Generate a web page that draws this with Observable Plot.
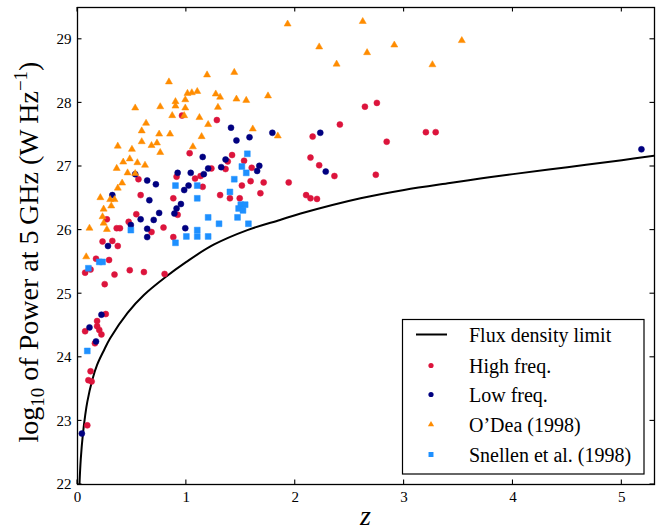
<!DOCTYPE html>
<html><head><meta charset="utf-8">
<script src="https://cdn.jsdelivr.net/npm/d3@7"></script>
<script src="https://cdn.jsdelivr.net/npm/@observablehq/plot@0.6"></script>
<style>
body{margin:0;background:#fff;}
#wrap{width:663px;height:531px;}
</style></head><body><div id="wrap"></div>
<script>
// [z, log10 P]
const highFreq = [[0.09,22.93],[0.10,23.64],[0.13,23.62],[0.12,23.78],[0.16,24.22],[0.07,24.41],[0.18,24.49],[0.20,24.43],[0.22,24.36],[0.18,24.57],[0.26,24.68],[0.25,25.15],[0.07,25.33],[0.12,25.38],[0.34,25.30],[0.48,25.37],[0.61,25.34],[0.80,25.31],[0.17,25.55],[0.29,25.53],[0.23,25.82],[0.32,25.83],[0.37,25.75],[0.36,26.03],[0.39,26.03],[0.27,26.17],[0.47,26.13],[0.54,26.25],[0.68,25.97],[0.79,26.04],[0.88,25.89],[0.58,26.55],[0.88,26.50],[0.92,26.24],[0.56,26.80],[0.91,26.84],[1.08,26.81],[1.13,26.85],[1.15,26.68],[1.31,26.55],[1.40,26.50],[1.49,26.50],[1.51,26.70],[1.59,26.77],[1.71,26.75],[1.68,26.58],[1.94,26.75],[1.23,26.97],[1.36,26.96],[1.60,26.98],[1.38,27.08],[1.53,27.09],[1.42,27.18],[1.03,27.21],[0.96,27.80],[1.28,27.73],[2.10,26.55],[2.14,26.50],[2.20,26.49],[2.36,26.85],[2.74,26.87],[2.22,27.02],[2.14,27.14],[2.16,27.47],[2.84,27.39],[2.41,27.66],[2.64,27.94],[2.75,28.00],[3.20,27.54],[3.29,27.54]];
const lowFreq = [[0.04,22.80],[0.17,24.25],[0.11,24.47],[0.22,24.67],[0.28,25.75],[0.32,26.55],[0.49,26.08],[0.58,26.17],[0.64,26.02],[0.64,25.89],[0.70,26.16],[0.75,26.27],[0.89,26.26],[0.91,26.34],[0.95,26.41],[0.66,26.47],[0.99,26.03],[0.98,26.63],[1.02,26.70],[0.64,26.78],[0.72,26.72],[0.53,26.88],[0.92,26.90],[1.04,26.90],[1.16,26.88],[1.20,26.97],[1.32,26.99],[1.65,26.93],[1.67,27.01],[1.36,27.11],[1.15,27.15],[1.41,27.61],[1.46,27.41],[1.58,27.46],[1.79,27.53],[2.23,27.53],[2.28,26.92],[5.18,27.27]];
const odea = [[0.08,25.58],[0.11,26.03],[0.27,26.01],[0.24,26.11],[0.23,26.21],[0.24,26.33],[0.31,26.38],[0.21,26.51],[0.30,26.48],[0.34,26.48],[0.37,26.66],[0.41,26.74],[0.36,26.97],[0.46,26.90],[0.53,26.89],[0.42,27.07],[0.48,27.12],[0.55,27.06],[0.62,27.02],[0.37,27.32],[0.50,27.27],[0.76,27.22],[0.68,27.33],[0.73,27.37],[0.59,27.39],[0.59,27.56],[0.75,27.51],[0.85,27.51],[0.63,27.68],[0.87,27.80],[0.98,27.80],[0.53,27.92],[0.76,27.94],[0.90,27.95],[0.90,28.02],[0.99,28.05],[0.84,28.33],[1.01,28.15],[1.05,28.16],[1.10,28.18],[0.99,27.92],[1.27,28.14],[1.31,28.09],[1.46,28.06],[1.55,28.04],[1.75,28.11],[1.29,27.93],[1.12,27.77],[1.20,27.66],[1.61,27.59],[1.84,27.48],[1.14,27.47],[1.06,27.31],[1.19,28.44],[1.44,28.48],[1.93,29.24],[2.62,29.28],[2.22,28.88],[2.66,28.79],[2.91,28.91],[3.53,28.98],[2.38,28.61],[3.26,28.60]];
const snellen = [[1.56,27.20],[1.51,27.00],[1.55,26.90],[1.44,26.80],[0.90,26.70],[1.10,26.70],[1.40,26.60],[1.10,26.50],[1.50,26.40],[1.54,26.40],[1.48,26.34],[1.52,26.31],[1.20,26.20],[1.47,26.20],[1.30,26.10],[1.57,26.10],[0.49,26.00],[1.10,26.00],[1.00,25.90],[1.10,25.90],[1.20,25.90],[0.90,25.80],[0.20,25.50],[0.23,25.50],[0.10,25.40],[0.09,24.10]];
const fluxZ = [0.018,0.03,0.05,0.07,0.09,0.135,0.18,0.24,0.30,0.46,0.61,0.80,1.0,1.25,1.56,1.86,2.05,2.6,3.0,3.42,3.7,4.0,4.5,5.0,5.3];
const fluxP = [22.0,22.4,22.8,23.08,23.3,23.64,23.88,24.1,24.3,24.7,24.98,25.25,25.5,25.77,26.0,26.16,26.26,26.5,26.63,26.74,26.81,26.88,26.99,27.1,27.17];
const xTicks = [0,1,2,3,4,5];
const yTicks = [22,23,24,25,26,27,28,29];
const legendLabels = ["Flux density limit","High freq.","Low freq.","O\u2019Dea (1998)","Snellen et al. (1998)"];
const colors = {high:"#DC143C", low:"#000080", odea:"#FF8C00", snellen:"#1E90FF"};

const W=663, H=531, mL=77, mR=9, mT=7, mB=47;
const font = "'Liberation Serif', 'Times New Roman', serif";
const flux = fluxZ.map((z,i)=>({z, p:fluxP[i]}));

const plot = Plot.plot({
  width:W, height:H, marginLeft:mL, marginRight:mR, marginTop:mT, marginBottom:mB,
  style:{fontFamily:font, fontSize:"15px", background:"white", color:"black", overflow:"visible"},
  x:{domain:[0,5.3], ticks:xTicks, tickFormat:d=>String(d), tickSize:0, tickPadding:7, label:null},
  y:{domain:[22,29.5], ticks:yTicks, tickFormat:d=>String(d), tickSize:0, tickPadding:6, label:null},
  marks:[
    Plot.line(flux,{x:"z", y:"p", stroke:"black", strokeWidth:2, curve:"catmull-rom", clip:true}),
    Plot.dot(highFreq,{x:d=>d[0], y:d=>d[1], r:3, fill:colors.high, stroke:colors.high, strokeWidth:0.5}),
    Plot.dot(lowFreq,{x:d=>d[0], y:d=>d[1], r:3, fill:colors.low, stroke:colors.low, strokeWidth:0.5}),
    Plot.dot(odea,{x:d=>d[0], y:d=>d[1], r:2.6, symbol:"triangle", fill:colors.odea, stroke:colors.odea, strokeWidth:0.5}),
    Plot.dot(snellen,{x:d=>d[0], y:d=>d[1], r:3.3, symbol:"square", fill:colors.snellen, stroke:colors.snellen, strokeWidth:0.5}),
    Plot.frame({stroke:"black", strokeWidth:1.3})
  ]
});
document.getElementById("wrap").appendChild(plot);

const svg = d3.select(plot);
const sx = plot.scale("x"), sy = plot.scale("y");
const x0 = mL, x1 = W-mR, y0 = mT, y1 = H-mB;
const tk = 4.5;
const g = svg.append("g").attr("stroke","black").attr("stroke-width",1.1);
xTicks.forEach(v=>{
  const px = sx.apply(v);
  g.append("line").attr("x1",px).attr("x2",px).attr("y1",y1).attr("y2",y1-tk);
  g.append("line").attr("x1",px).attr("x2",px).attr("y1",y0).attr("y2",y0+tk);
});
yTicks.forEach(v=>{
  const py = sy.apply(v);
  g.append("line").attr("y1",py).attr("y2",py).attr("x1",x0).attr("x2",x0+tk);
  g.append("line").attr("y1",py).attr("y2",py).attr("x1",x1).attr("x2",x1-tk);
});

// axis labels
const yl = svg.append("text")
  .attr("transform",`translate(38,252) rotate(-90)`)
  .attr("text-anchor","middle").attr("font-family",font).attr("font-size",28).attr("fill","black");
yl.append("tspan").text("log");
yl.append("tspan").attr("font-size",19).attr("dy",6).text("10");
yl.append("tspan").attr("dy",-6).text(" of Power at 5\u2009GHz (W\u2009Hz");
yl.append("tspan").attr("font-size",19).attr("dy",-11).text("\u22121");
yl.append("tspan").attr("dy",11).text(")");

svg.append("text").attr("x",(x0+x1)/2).attr("y",525).attr("text-anchor","middle")
  .attr("font-family",font).attr("font-style","italic").attr("font-size",28).attr("fill","black").text("z");

// legend
const lg = svg.append("g").attr("font-family",font).attr("font-size",20).attr("text-anchor","start");
lg.append("rect").attr("x",402.5).attr("y",319.5).attr("width",241.5).attr("height",154.5)
  .attr("fill","white").attr("stroke","black").attr("stroke-width",1.2);
const rowY = [334.5,365.5,394.5,424.5,454.5];
const mx = 431;
lg.append("line").attr("x1",416).attr("x2",447).attr("y1",rowY[0]).attr("y2",rowY[0]).attr("stroke","black").attr("stroke-width",2);
lg.append("circle").attr("cx",mx).attr("cy",rowY[1]).attr("r",2.6).attr("fill",colors.high);
lg.append("circle").attr("cx",mx).attr("cy",rowY[2]).attr("r",2.6).attr("fill",colors.low);
lg.append("path").attr("transform",`translate(${mx},${rowY[3]})`).attr("d",d3.symbol(d3.symbolTriangle, 2.3*2.3*Math.PI)()).attr("fill",colors.odea);
lg.append("path").attr("transform",`translate(${mx},${rowY[4]})`).attr("d",d3.symbol(d3.symbolSquare, 2.8*2.8*Math.PI)()).attr("fill",colors.snellen);
legendLabels.forEach((t,i)=>{
  lg.append("text").attr("x",469).attr("y",rowY[i]+7).attr("text-anchor","start").attr("fill","black").text(t);
});
</script></body></html>
